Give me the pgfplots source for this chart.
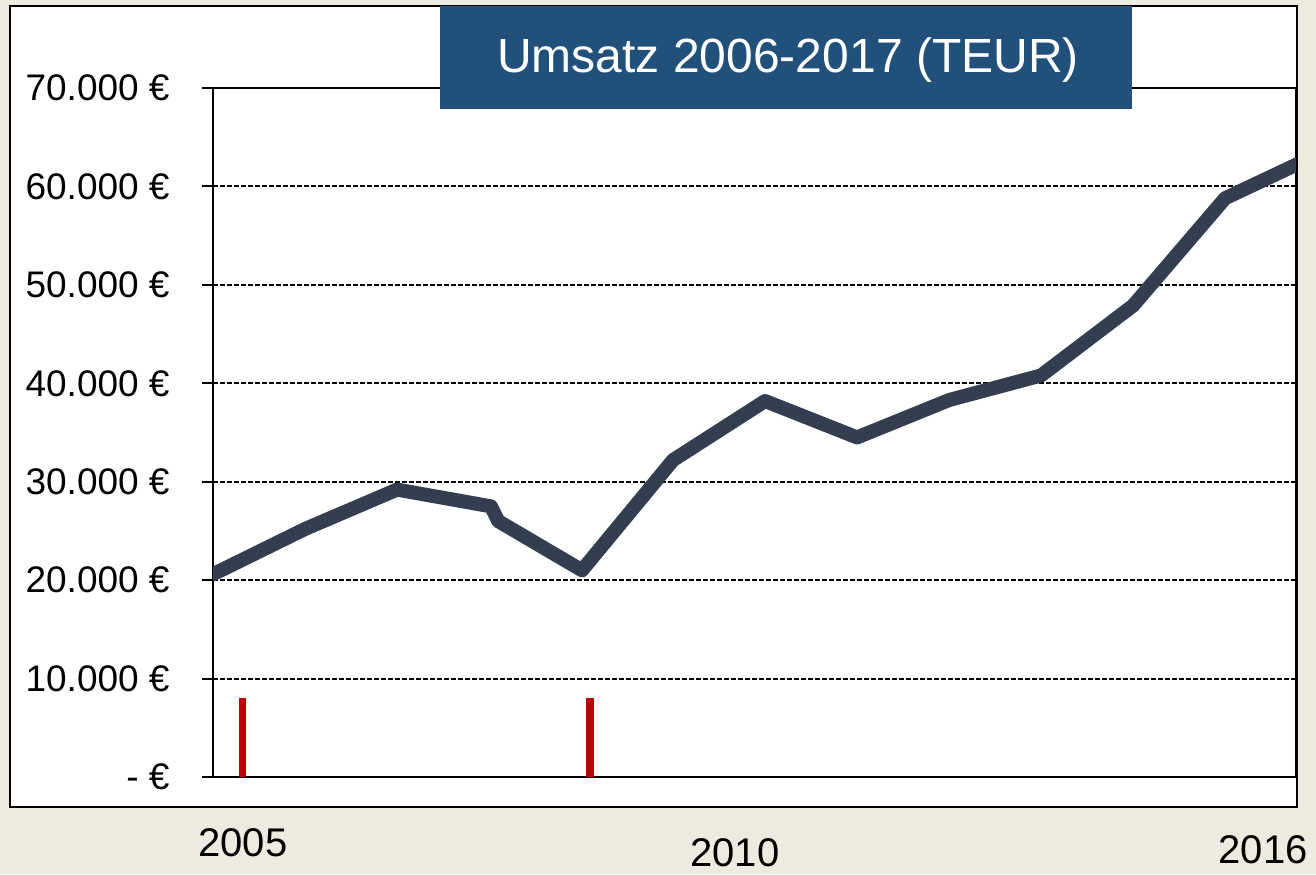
\documentclass[border=0pt]{standalone}
\usepackage{pgfplots}
\pgfplotsset{compat=1.18}
\usepackage{fontspec}
\setmainfont{Liberation Sans}
\definecolor{bgbeige}{HTML}{EDEADF}
\definecolor{titleblue}{HTML}{21507A}
\definecolor{linecol}{HTML}{333F50}
\definecolor{barred}{HTML}{C00000}
\begin{document}
\begin{tikzpicture}[x=0.5pt,y=-0.5pt]
\fill[bgbeige] (0,0) rectangle (1316,874);
\draw[fill=white,draw=black,line width=1pt] (10,6) rectangle (1297,807);
\begin{axis}[
  at={(106.5pt,-388.5pt)}, anchor=south west,
  scale only axis, width=541.5pt, height=344.5pt,
  xmin=0, xmax=11.77, ymin=0, ymax=70000,
  xtick=\empty,
  scaled y ticks=false,
  ytick={0,10000,20000,30000,40000,50000,60000,70000},
  yticklabels={- €,10.000 €,20.000 €,30.000 €,40.000 €,50.000 €,60.000 €,70.000 €},
  yticklabel style={font=\fontsize{18.5}{20}\selectfont, anchor=east, inner sep=0pt, xshift=-16pt},
  ytick pos=left, tick align=outside, major tick length=5.5pt,
  tick style={black, line width=1pt},
  axis line style={black, line width=1pt},
  ymajorgrids,
  major grid style={black, line width=1pt, dash pattern=on 2.5pt off 1pt},
  clip=true,
]
\addplot[ycomb, barred, line width=3.8pt] coordinates {(0.32,8000) (4.1,8000)};
\addplot[linecol, line width=7pt, line join=round] coordinates {
(-0.2,20200) (0,20600) (1,25200) (2,29200) (3.02,27500) (3.1,26000) (4.01,21000)
(5,32200) (6,38200) (7,34500) (8,38300) (9,40800) (10,47900) (11,58800) (11.77,62200) (12,63300)};
\end{axis}
\fill[titleblue] (440,6) rectangle (1132,109);
\node[text=white, font=\fontsize{24}{28}\selectfont] at (788,60) {Umsatz 2006-2017 (TEUR)};
\node[font=\fontsize{20}{24}\selectfont] at (243,843) {2005};
\node[font=\fontsize{20}{24}\selectfont] at (735,853) {2010};
\node[font=\fontsize{20}{24}\selectfont] at (1263,850) {2016};
\pgfresetboundingbox
\useasboundingbox (0,0) rectangle (1316,874);
\end{tikzpicture}
\end{document}
